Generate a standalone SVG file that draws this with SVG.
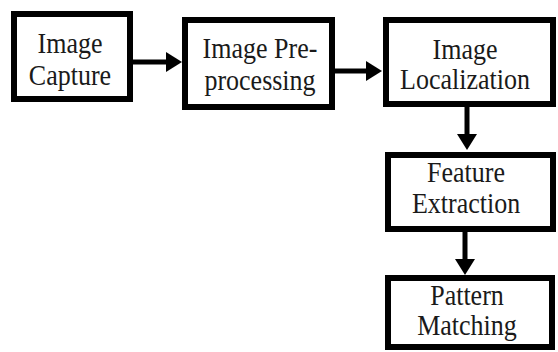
<svg xmlns="http://www.w3.org/2000/svg" width="558" height="352" viewBox="0 0 558 352">
  <style>
    .box { fill: #ffffff; stroke: #000000; stroke-width: 6; }
    .lbl { font-family: "Liberation Serif", "Times New Roman", serif; font-size: 26px; fill: #1a1a1a; text-anchor: middle; }
    .conn { stroke: #000000; stroke-width: 5; fill: none; }
  </style>
  <defs>
    <marker id="ah" viewBox="0 0 16 20" refX="0" refY="10" markerWidth="16" markerHeight="20" markerUnits="userSpaceOnUse" orient="auto">
      <path d="M0,0 L16,10 L0,20 Z" fill="#000000"/>
    </marker>
  </defs>
  <rect width="558" height="352" fill="#ffffff"/>
  <g id="connectors">
    <line class="conn" x1="133" y1="62" x2="166" y2="62" marker-end="url(#ah)"/>
    <line class="conn" x1="335" y1="71" x2="366" y2="71" marker-end="url(#ah)"/>
    <line class="conn" x1="467" y1="107" x2="467" y2="134" marker-end="url(#ah)"/>
    <line class="conn" x1="465" y1="232" x2="465" y2="259" marker-end="url(#ah)"/>
  </g>
  <g id="image-capture">
    <rect class="box" x="14" y="14" width="116" height="85"/>
    <text class="lbl" transform="translate(70,53) scale(1,1.13)">Image</text>
    <text class="lbl" transform="translate(70,85) scale(1,1.13)">Capture</text>
  </g>
  <g id="image-preprocessing">
    <rect class="box" x="185" y="20" width="147" height="87"/>
    <text class="lbl" transform="translate(260,58) scale(1,1.13)">Image Pre-</text>
    <text class="lbl" transform="translate(260,90) scale(1,1.13)">processing</text>
  </g>
  <g id="image-localization">
    <rect class="box" x="386" y="20" width="167" height="84"/>
    <text class="lbl" transform="translate(465,59) scale(1,1.13)">Image</text>
    <text class="lbl" transform="translate(465,89) scale(1,1.13)">Localization</text>
  </g>
  <g id="feature-extraction">
    <rect class="box" x="388" y="155" width="165" height="74"/>
    <text class="lbl" transform="translate(466,182) scale(1,1.13)">Feature</text>
    <text class="lbl" transform="translate(466,213) scale(1,1.13)">Extraction</text>
  </g>
  <g id="pattern-matching">
    <rect class="box" x="388" y="278" width="164" height="69"/>
    <text class="lbl" transform="translate(467,305) scale(1,1.13)">Pattern</text>
    <text class="lbl" transform="translate(467,335) scale(1,1.13)">Matching</text>
  </g>
</svg>
